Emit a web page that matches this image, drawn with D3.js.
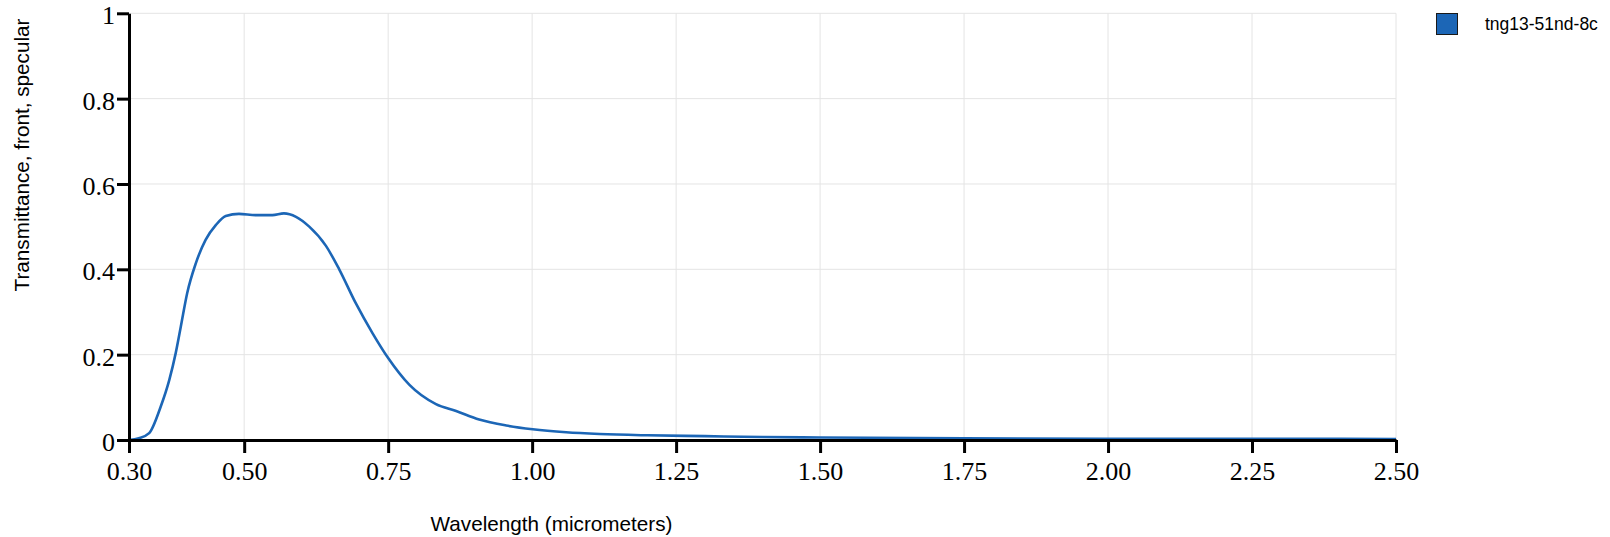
<!DOCTYPE html>
<html>
<head>
<meta charset="utf-8">
<script src="https://cdn.jsdelivr.net/npm/d3@7"></script>
<style>
  html, body { margin: 0; padding: 0; background: #fff; }
  svg { display: block; }
</style>
</head>
<body>
<svg id="chart" width="1610" height="537"></svg>
<script>
// ---- data ----
const seriesName = "tng13-51nd-8c";
const wavelengths = [0.300, 0.317, 0.335, 0.355, 0.370, 0.381, 0.390, 0.401, 0.416, 0.433, 0.451, 0.468,
  0.491, 0.520, 0.549, 0.569, 0.590, 0.613, 0.642, 0.665, 0.694, 0.723, 0.750, 0.787, 0.833,
  0.868, 0.908, 0.955, 1.001, 1.059, 1.117, 1.200, 1.300, 1.400, 1.500, 1.750, 2.000, 2.250, 2.500];
const transmittance = [0.000, 0.004, 0.016, 0.078, 0.141, 0.203, 0.266, 0.344, 0.414, 0.469, 0.504, 0.525,
  0.530, 0.527, 0.527, 0.531, 0.523, 0.500, 0.455, 0.400, 0.320, 0.250, 0.192, 0.129, 0.084,
  0.068, 0.048, 0.034, 0.025, 0.018, 0.014, 0.011, 0.009, 0.007, 0.006, 0.004, 0.003, 0.003, 0.002];
const xTicks = [0.30, 0.50, 0.75, 1.00, 1.25, 1.50, 1.75, 2.00, 2.25, 2.50];
const yTicks = [0, 0.2, 0.4, 0.6, 0.8, 1];
const xTitle = "Wavelength (micrometers)";
const yTitle = "Transmittance, front, specular";

// ---- layout ----
const svg = d3.select("#chart");
const x = d3.scaleLinear().domain([0.3, 2.5]).range([129, 1396]);
const y = d3.scaleLinear().domain([0, 1]).range([440, 13.3]);
const lineColor = "#1c66b6";
const serif = "'Liberation Serif', 'Times New Roman', serif";
const sans = "'Liberation Sans', Arial, sans-serif";

// grid
const grid = svg.append("g");
grid.selectAll("line.h").data(yTicks.filter(d => d > 0)).join("line")
  .attr("x1", x(0.3)).attr("x2", x(2.5))
  .attr("y1", d => y(d)).attr("y2", d => y(d))
  .attr("stroke", "#e4e4e4").attr("stroke-width", 1);
grid.selectAll("line.v").data(xTicks.filter(d => d > 0.3)).join("line")
  .attr("x1", d => x(d)).attr("x2", d => x(d))
  .attr("y1", y(0)).attr("y2", y(1))
  .attr("stroke", "#e4e4e4").attr("stroke-width", 1);

// line
const data = wavelengths.map((w, i) => ({ w, v: transmittance[i] }));
svg.append("path")
  .datum(data)
  .attr("fill", "none")
  .attr("stroke", lineColor)
  .attr("stroke-width", 2.6)
  .attr("stroke-linejoin", "round")
  .attr("d", d3.line().x(d => x(d.w)).y(d => y(d.v)).curve(d3.curveMonotoneX));

// axes
const xAxis = svg.append("g").attr("transform", `translate(0,${y(0)})`)
  .call(d3.axisBottom(x).tickValues(xTicks).tickFormat(d3.format(".2f"))
    .tickSize(13).tickSizeOuter(0).tickPadding(9));
const yAxis = svg.append("g").attr("transform", `translate(${x(0.3)},0)`)
  .call(d3.axisLeft(y).tickValues(yTicks).tickFormat(d => d === 0 ? "0" : d === 1 ? "1" : d3.format(".1f")(d))
    .tickSize(12).tickSizeOuter(0).tickPadding(2));
[xAxis, yAxis].forEach(a => {
  a.select(".domain").attr("stroke", "#000").attr("stroke-width", 3);
  a.selectAll(".tick line").attr("stroke", "#000").attr("stroke-width", 3);
  a.selectAll(".tick text").attr("fill", "#000")
    .style("font-family", serif).style("font-size", "26px");
});
yAxis.selectAll(".tick text").attr("dy", "0.40em");
xAxis.selectAll(".tick text").attr("dy", "0.71em");

// axis titles
svg.append("text")
  .attr("x", 551.5).attr("y", 531)
  .attr("text-anchor", "middle")
  .style("font-family", sans).style("font-size", "20.7px")
  .text(xTitle);
svg.append("text")
  .attr("transform", "translate(28.5,155) rotate(-90)")
  .attr("text-anchor", "middle")
  .style("font-family", sans).style("font-size", "20.7px")
  .text(yTitle);

// legend
const legend = svg.append("g");
legend.append("rect")
  .attr("x", 1436.5).attr("y", 13.5).attr("width", 21).attr("height", 21)
  .attr("fill", lineColor).attr("stroke", "#1a1a1a").attr("stroke-width", 1);
legend.append("text")
  .attr("x", 1485).attr("y", 30)
  .style("font-family", sans).style("font-size", "17.5px")
  .text(seriesName);
</script>
</body>
</html>
